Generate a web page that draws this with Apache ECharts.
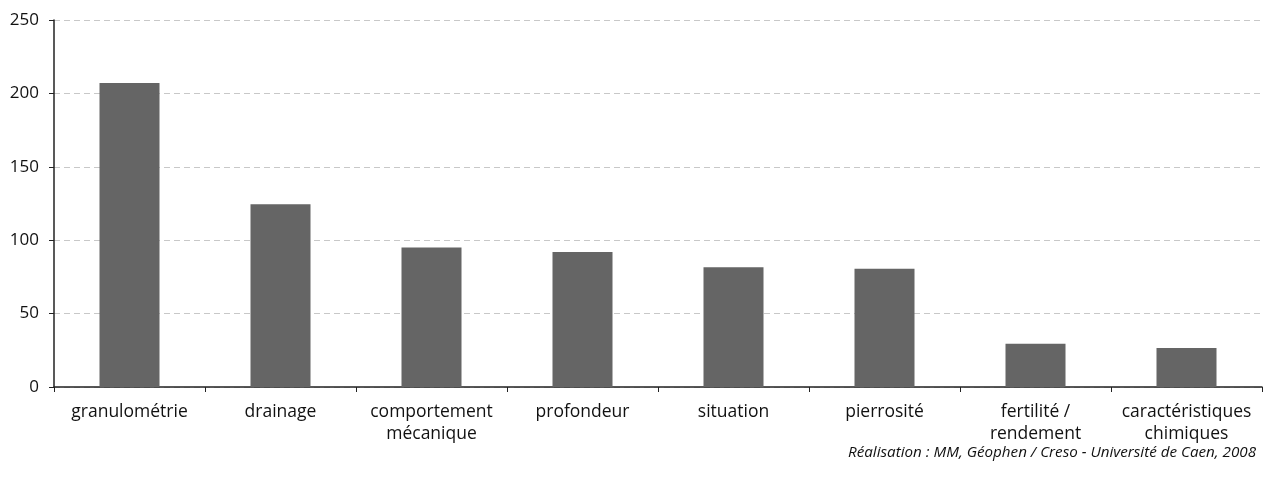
<!DOCTYPE html>
<html>
<head>
<meta charset="utf-8">
<script src="https://cdn.jsdelivr.net/npm/echarts@6/dist/echarts.min.js"></script>
<style>
  html, body { margin: 0; padding: 0; background: #fff; }
  #chart { width: 1283px; height: 487px; }
</style>
</head>
<body>
<div id="chart"></div>
<script>
var categories = [
  'granulométrie', 'drainage', 'comportement\nmécanique', 'profondeur',
  'situation', 'pierrosité', 'fertilité /\nrendement', 'caractéristiques\nchimiques'
]
var values = [207, 124.5, 95, 92, 81.5, 80.5, 29.5, 26.5]
var yTicks = [0, 50, 100, 150, 200, 250]
var credit = 'Réalisation : MM, Géophen / Creso - Université de Caen, 2008'

var chart = echarts.init(document.getElementById('chart'))
chart.setOption({
  animation: false,
  textStyle: { fontFamily: 'Open Sans' },
  title: {
    text: credit,
    right: 22,
    top: 440,
    textStyle: {
      fontFamily: 'Open Sans',
      fontStyle: 'italic',
      fontWeight: 'normal',
      fontSize: 15.2,
      color: '#111'
    }
  },
  grid: {
    left: 54,
    right: 21,
    top: 20,
    bottom: 100
  },
  xAxis: {
    type: 'category',
    data: categories,
    axisLine: { lineStyle: { color: '#222', width: 1.5 } },
    axisTick: { show: true, length: 5, lineStyle: { color: '#222' } },
    axisLabel: {
      color: '#111',
      fontSize: 17.5,
      margin: 14,
      lineHeight: 22,
      interval: 0
    }
  },
  yAxis: {
    type: 'value',
    min: yTicks[0],
    max: yTicks[yTicks.length - 1],
    interval: 50,
    axisLine: { show: true, lineStyle: { color: '#222', width: 1.5 } },
    axisTick: { show: true, length: 5, lineStyle: { color: '#222' } },
    axisLabel: { color: '#111', fontSize: 17, margin: 15 },
    splitLine: {
      lineStyle: { type: [6, 4], color: '#c8c8c8' }
    }
  },
  series: [
    {
      type: 'bar',
      data: values,
      barWidth: 60,
      itemStyle: { color: '#656565' }
    }
  ]
})
</script>
</body>
</html>
